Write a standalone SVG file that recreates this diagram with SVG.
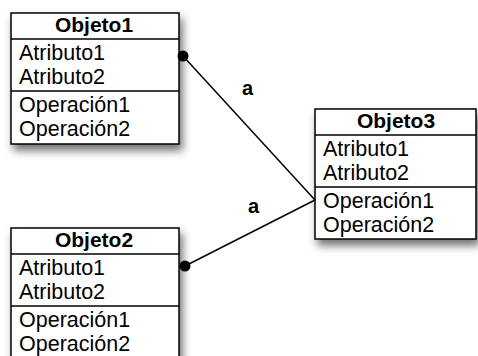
<svg xmlns="http://www.w3.org/2000/svg" width="478" height="356" viewBox="0 0 478 356">
<defs>
<filter id="sh" x="-20%" y="-20%" width="150%" height="150%">
<feDropShadow dx="3" dy="6" stdDeviation="4" flood-color="#000" flood-opacity="0.55"/>
</filter>
<style>
.box{fill:#fff;stroke:#000;stroke-width:1.5}
.ln{stroke:#000;stroke-width:1.5;fill:none}
.hd{font-family:"Liberation Sans",Arial,sans-serif;font-weight:bold;font-size:21px;text-anchor:middle;fill:#000}
.tx{font-family:"Liberation Sans",Arial,sans-serif;font-size:21.5px;fill:#000}
.lb{font-family:"Liberation Sans",Arial,sans-serif;font-weight:bold;font-size:20px;fill:#000}
</style>
</defs>
<g id="Objeto1">
<rect class="box" x="11" y="13" width="168" height="131" filter="url(#sh)"/>
<line class="ln" x1="11" y1="39" x2="179" y2="39"/>
<line class="ln" x1="11" y1="91" x2="179" y2="91"/>
<text class="hd" x="94" y="32">Objeto1</text>
<text class="tx" x="19" y="60">Atributo1</text>
<text class="tx" x="19" y="84">Atributo2</text>
<text class="tx" x="19" y="112">Operación1</text>
<text class="tx" x="19" y="136">Operación2</text>
</g>
<g id="Objeto2">
<rect class="box" x="11" y="228" width="168" height="131" filter="url(#sh)"/>
<line class="ln" x1="11" y1="254" x2="179" y2="254"/>
<line class="ln" x1="11" y1="306" x2="179" y2="306"/>
<text class="hd" x="94" y="247">Objeto2</text>
<text class="tx" x="19" y="275">Atributo1</text>
<text class="tx" x="19" y="299">Atributo2</text>
<text class="tx" x="19" y="327">Operación1</text>
<text class="tx" x="19" y="351">Operación2</text>
</g>
<g id="Objeto3">
<rect class="box" x="315" y="109" width="161" height="130" filter="url(#sh)"/>
<line class="ln" x1="315" y1="135" x2="476" y2="135"/>
<line class="ln" x1="315" y1="187" x2="476" y2="187"/>
<text class="hd" x="396" y="128">Objeto3</text>
<text class="tx" x="323" y="156">Atributo1</text>
<text class="tx" x="323" y="180">Atributo2</text>
<text class="tx" x="323" y="208">Operación1</text>
<text class="tx" x="323" y="232">Operación2</text>
</g>
<g id="connectors">
<line class="ln" x1="183" y1="56" x2="315" y2="200"/>
<line class="ln" x1="185" y1="266" x2="315" y2="200"/>
<circle cx="183" cy="56" r="5.5" fill="#000"/>
<circle cx="185" cy="266" r="5.5" fill="#000"/>
<text class="lb" x="242" y="95">a</text>
<text class="lb" x="248" y="213">a</text>
</g>
</svg>
